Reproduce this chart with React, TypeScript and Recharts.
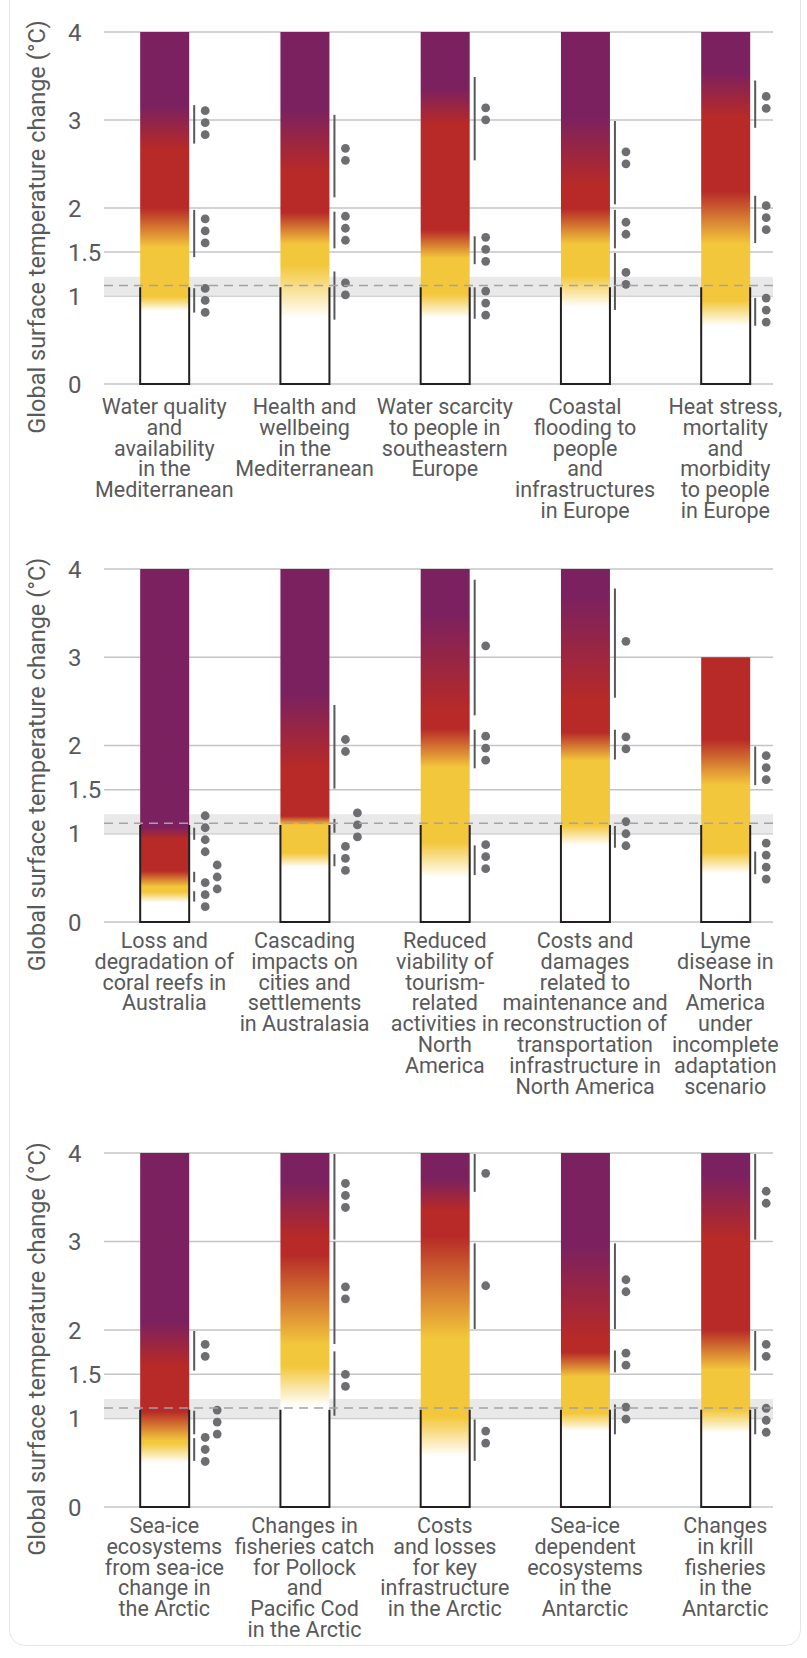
import React from 'react';
import { ComposedChart, Bar, XAxis, YAxis, CartesianGrid, ReferenceArea, ReferenceLine } from 'recharts';

// white -> yellow -> red -> purple (undetectable .. very high risk)
const RISK_COLORS = ['#ffffff', '#f3c73c', '#b72a27', '#7b2160'];

const Y_TICKS = [0, 1, 1.5, 2, 3, 4];
const OBSERVED_BAND = [1.0, 1.22];
const OBSERVED_NOW = 1.12;
const OUTLINE_TOP = 1.1;

// ---- panel 1: Europe / Mediterranean
const labels1 = [
  'Water quality\nand\navailability\nin the\nMediterranean',
  'Health and\nwellbeing\nin the\nMediterranean',
  'Water scarcity\nto people in\nsoutheastern\nEurope',
  'Coastal\nflooding to\npeople\nand\ninfrastructures\nin Europe',
  'Heat stress,\nmortality\nand\nmorbidity\nto people\nin Europe',
];
const tops1 = [4, 4, 4, 4, 4];
// [from °C, to °C] for each colour transition, bottom up
const fades1 = [
  [[0.83, 0.99], [1.55, 2.0], [2.67, 3.16]],
  [[0.75, 1.35], [1.59, 1.95], [2.43, 3.12]],
  [[0.75, 1.02], [1.43, 1.75], [2.95, 3.36]],
  [[0.87, 1.23], [1.59, 1.99], [2.27, 3.04]],
  [[0.66, 0.95], [1.59, 2.19], [3.04, 3.55]],
];
// confidence: [low, high, dots, dot centre, column]
const conf1 = [
  [[0.8, 1.1, 3, 0.95, 0], [1.43, 1.99, 3, 1.74, 0], [2.72, 3.18, 3, 2.97, 0]],
  [[0.72, 1.29, 2, 1.08, 0], [1.53, 1.97, 3, 1.77, 0], [2.11, 3.07, 2, 2.61, 0]],
  [[0.73, 1.11, 3, 0.92, 0], [1.35, 1.69, 3, 1.53, 0], [2.53, 3.5, 2, 3.07, 0]],
  [[0.83, 1.5, 2, 1.2, 0], [1.53, 1.99, 2, 1.77, 0], [2.03, 3.0, 2, 2.57, 0]],
  [[0.65, 0.99, 3, 0.84, 0], [1.59, 2.15, 3, 1.89, 0], [2.9, 3.46, 2, 3.2, 0]],
];

// ---- panel 2: Australasia / North America
const labels2 = [
  'Loss and\ndegradation of\ncoral reefs in\nAustralia',
  'Cascading\nimpacts on\ncities and\nsettlements\nin Australasia',
  'Reduced\nviability of\ntourism-\nrelated\nactivities in\nNorth\nAmerica',
  'Costs and\ndamages\nrelated to\nmaintenance and\nreconstruction of\ntransportation\ninfrastructure in\nNorth America',
  'Lyme\ndisease in\nNorth\nAmerica\nunder\nincomplete\nadaptation\nscenario',
];
const tops2 = [4, 4, 4, 4, 3];
const fades2 = [
  [[0.22, 0.34], [0.4, 0.58], [0.94, 1.08]],
  [[0.62, 0.78], [1.1, 1.2], [1.75, 2.59]],
  [[0.5, 0.9], [1.75, 2.19], [2.39, 3.5]],
  [[0.87, 1.1], [1.83, 2.15], [2.5, 3.7]],
  [[0.55, 0.79], [1.55, 2.07]],
];
const conf2 = [
  [[0.22, 0.36, 3, 0.31, 0], [0.44, 0.58, 3, 0.51, 1], [0.92, 1.08, 4, 1.0, 0]],
  [[0.62, 0.78, 3, 0.72, 0], [1.0, 1.18, 3, 1.1, 1], [1.5, 2.47, 2, 2.0, 0]],
  [[0.52, 0.88, 3, 0.74, 0], [1.73, 2.19, 3, 1.97, 0], [2.33, 3.89, 1, 3.13, 0]],
  [[0.83, 1.1, 3, 1.0, 0], [1.83, 2.19, 2, 2.03, 0], [2.53, 3.79, 1, 3.18, 0]],
  [[0.53, 0.81, 4, 0.69, 0], [1.54, 2.0, 3, 1.75, 0]],
];

// ---- panel 3: Polar regions
const labels3 = [
  'Sea-ice\necosystems\nfrom sea-ice\nchange in\nthe Arctic',
  'Changes in\nfisheries catch\nfor Pollock\nand\nPacific Cod\nin the Arctic',
  'Costs\nand losses\nfor key\ninfrastructure\nin the Arctic',
  'Sea-ice\ndependent\necosystems\nin the\nAntarctic',
  'Changes\nin krill\nfisheries\nin the\nAntarctic',
];
const tops3 = [4, 4, 4, 4, 4];
const fades3 = [
  [[0.5, 0.72], [0.75, 1.08], [1.6, 2.1]],
  [[1.14, 1.59], [1.83, 2.85], [3.05, 3.67]],
  [[0.57, 1.02], [1.9, 3.06], [3.35, 3.71]],
  [[0.86, 1.06], [1.47, 1.75], [1.91, 2.97]],
  [[0.84, 1.1], [1.55, 2.0], [3.05, 3.75]],
];
const conf3 = [
  [[0.51, 0.79, 3, 0.65, 0], [0.81, 1.1, 3, 0.96, 1], [1.53, 2.0, 2, 1.77, 0]],
  [[1.02, 1.77, 2, 1.43, 0], [1.83, 3.01, 2, 2.42, 0], [3.01, 4.0, 3, 3.52, 0]],
  [[0.51, 1.0, 2, 0.79, 0], [2.0, 2.99, 1, 2.5, 0], [3.55, 4.0, 1, 3.77, 0]],
  [[0.81, 1.17, 2, 1.06, 0], [1.51, 1.78, 2, 1.67, 0], [2.0, 2.99, 2, 2.5, 0]],
  [[0.81, 1.12, 3, 0.98, 0], [1.53, 2.0, 2, 1.77, 0], [3.01, 4.0, 2, 3.5, 0]],
];

const TEXT = '#58595b';
const FONT = 'Roboto, "Liberation Sans", sans-serif';
const LINE_H = 20.8;

function EmberShape(props: any) {
  const { x, y, width, height, payload } = props;
  const { top, fades, conf, id } = payload;
  const k = height / top;
  const yAt = (t: number) => y + height - t * k;
  const stops: { off: number; color: string }[] = [];
  fades.forEach(([lo, hi]: number[], i: number) => {
    stops.push({ off: 1 - lo / top, color: RISK_COLORS[i] });
    stops.push({ off: 1 - hi / top, color: RISK_COLORS[i + 1] });
  });
  stops.sort((a, b) => a.off - b.off);
  const lineX = x + width + 5;
  const dotX = x + width + 16;
  return (
    <g>
      <defs>
        <linearGradient id={id} x1="0" y1="0" x2="0" y2="1">
          {stops.map((s, i) => (
            <stop key={i} offset={Math.max(0, Math.min(1, s.off))} stopColor={s.color} />
          ))}
        </linearGradient>
      </defs>
      <rect x={x} y={y} width={width} height={height} fill={`url(#${id})`} />
      <path
        d={`M${x},${yAt(OUTLINE_TOP)}V${y + height}H${x + width}V${yAt(OUTLINE_TOP)}`}
        fill="none"
        stroke="#231f20"
        strokeWidth={2}
      />
      {conf.map(([lo, hi, n, mid, col]: number[], i: number) => (
        <g key={i}>
          <line x1={lineX} x2={lineX} y1={yAt(hi) + 1} y2={yAt(lo) - 1} stroke="#58595b" strokeWidth={2} />
          {Array.from({ length: n }).map((_, j) => (
            <circle
              key={j}
              cx={dotX + col * 12}
              cy={yAt(mid) + (j - (n - 1) / 2) * 12}
              r={4.4}
              fill="#6d6e71"
            />
          ))}
        </g>
      ))}
    </g>
  );
}

function XTick({ x, y, payload, labels, dy0 }: any) {
  const lines = String(labels[payload.value] ?? '').split('\n');
  return (
    <text x={x} y={y + dy0} textAnchor="middle" fontSize={21.5} fill={TEXT} fontFamily={FONT}>
      {lines.map((l, i) => (
        <tspan key={i} x={x} dy={i === 0 ? 0 : LINE_H}>
          {l}
        </tspan>
      ))}
    </text>
  );
}

function YTick({ y, payload }: any) {
  return (
    <text x={68} y={y} dy={8.5} textAnchor="start" fontSize={24} fill={TEXT} fontFamily={FONT}>
      {payload.value}
    </text>
  );
}

function YLabel({ viewBox }: any) {
  const cy = viewBox.y + viewBox.height / 2 + 19;
  return (
    <text
      transform={`translate(37, ${cy}) rotate(-90)`}
      textAnchor="middle"
      dominantBaseline="central"
      fontSize={23.5}
      fill={TEXT}
      fontFamily={FONT}
    >
      Global surface temperature change (°C)
    </text>
  );
}

function EmberPanel({ p, labels, tops, fades, conf, top, plotH, axisH, dy0 }: any) {
  const data = labels.map((_: string, i: number) => ({
    pos: i,
    top: tops[i],
    fades: fades[i],
    conf: conf[i],
    id: `ember-${p}-${i}`,
  }));
  return (
    <div style={{ position: 'absolute', left: 0, top }}>
      <ComposedChart
        width={807}
        height={32 + plotH + axisH}
        data={data}
        margin={{ top: 32, right: 34, bottom: 0, left: 0 }}
      >
        <CartesianGrid vertical={false} stroke="#c4c4c4" strokeWidth={1.5} />
        <ReferenceArea y1={OBSERVED_BAND[0]} y2={OBSERVED_BAND[1]} fill="#e4e4e4" fillOpacity={0.8} stroke="none" />
        <ReferenceLine y={OBSERVED_NOW} stroke="#a3a3a3" strokeWidth={1.5} strokeDasharray="9 6" />
        <XAxis
          dataKey="pos"
          type="number"
          domain={[-0.43, 4.34]}
          ticks={[0, 1, 2, 3, 4]}
          interval={0}
          height={axisH}
          axisLine={false}
          tickLine={false}
          tickSize={0}
          tickMargin={0}
          tick={<XTick labels={labels} dy0={dy0} />}
        />
        <YAxis
          type="number"
          domain={[0, 4]}
          ticks={Y_TICKS}
          interval={0}
          width={104}
          axisLine={false}
          tickLine={false}
          tick={<YTick />}
          label={<YLabel />}
        />
        <Bar dataKey="top" barSize={49} shape={EmberShape} isAnimationActive={false} />
      </ComposedChart>
    </div>
  );
}

export default function App() {
  return (
    <div style={{ position: 'absolute', left: 0, top: 0, width: 807, height: 1658, background: '#fff', overflow: 'hidden' }}>
      <div
        style={{
          position: 'absolute',
          left: 9,
          top: -20,
          width: 792,
          height: 1666,
          border: '1.5px solid #e1e5ea',
          borderRadius: 16,
          boxSizing: 'border-box',
        }}
      />
      <EmberPanel p={1} labels={labels1} tops={tops1} fades={fades1} conf={conf1} top={0} plotH={352} axisH={145} dy0={30} />
      <EmberPanel p={2} labels={labels2} tops={tops2} fades={fades2} conf={conf2} top={537} plotH={353} axisH={190} dy0={26} />
      <EmberPanel p={3} labels={labels3} tops={tops3} fades={fades3} conf={conf3} top={1121} plotH={354} axisH={135} dy0={26} />
    </div>
  );
}
